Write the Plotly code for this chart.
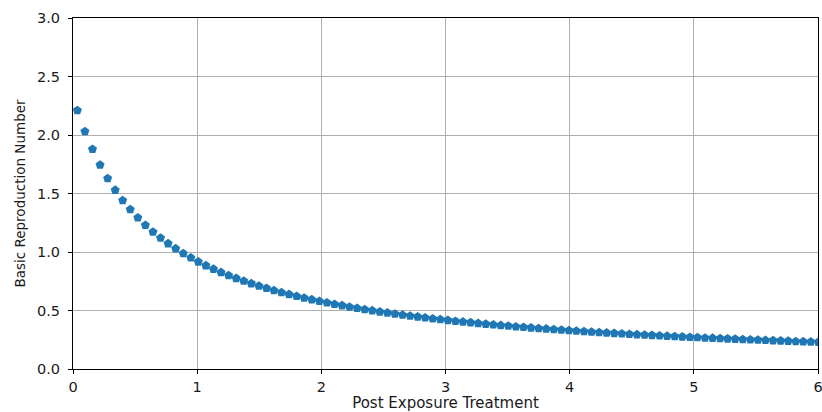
import plotly.graph_objects as go

treatment = [
    0.035, 0.096, 0.157, 0.218, 0.279, 0.340, 0.400, 0.461, 0.522, 0.583,
    0.644, 0.705, 0.766, 0.827, 0.888, 0.949, 1.009, 1.070, 1.131, 1.192,
    1.253, 1.314, 1.375, 1.436, 1.497, 1.558, 1.618, 1.679, 1.740, 1.801,
    1.862, 1.923, 1.984, 2.045, 2.106, 2.167, 2.227, 2.288, 2.349, 2.410,
    2.471, 2.532, 2.593, 2.654, 2.715, 2.776, 2.836, 2.897, 2.958, 3.019,
    3.080, 3.141, 3.202, 3.263, 3.324, 3.385, 3.445, 3.506, 3.567, 3.628,
    3.689, 3.750, 3.811, 3.872, 3.933, 3.994, 4.054, 4.115, 4.176, 4.237,
    4.298, 4.359, 4.420, 4.481, 4.542, 4.603, 4.663, 4.724, 4.785, 4.846,
    4.907, 4.968, 5.029, 5.090, 5.151, 5.212, 5.272, 5.333, 5.394, 5.455,
    5.516, 5.577, 5.638, 5.699, 5.760, 5.821, 5.881, 5.942, 6.003,
]

r0 = [
    2.210, 2.030, 1.878, 1.744, 1.628, 1.529, 1.441, 1.363, 1.293, 1.229,
    1.172, 1.120, 1.072, 1.029, 0.988, 0.951, 0.916, 0.884, 0.854, 0.826,
    0.800, 0.775, 0.752, 0.730, 0.710, 0.690, 0.672, 0.654, 0.638, 0.622,
    0.607, 0.593, 0.579, 0.566, 0.554, 0.542, 0.530, 0.519, 0.509, 0.499,
    0.489, 0.480, 0.471, 0.462, 0.454, 0.446, 0.438, 0.430, 0.423, 0.416,
    0.409, 0.403, 0.397, 0.390, 0.384, 0.379, 0.373, 0.368, 0.362, 0.357,
    0.352, 0.347, 0.343, 0.338, 0.334, 0.329, 0.325, 0.321, 0.317, 0.313,
    0.309, 0.305, 0.302, 0.298, 0.294, 0.291, 0.288, 0.285, 0.281, 0.278,
    0.275, 0.272, 0.269, 0.266, 0.264, 0.261, 0.258, 0.256, 0.253, 0.251,
    0.248, 0.246, 0.243, 0.241, 0.239, 0.236, 0.234, 0.232, 0.230,
]

x_ticks = [0, 1, 2, 3, 4, 5, 6]
y_ticks = [0.0, 0.5, 1.0, 1.5, 2.0, 2.5, 3.0]
y_tick_text = ["0.0", "0.5", "1.0", "1.5", "2.0", "2.5", "3.0"]

TEXT = "#1a1a1a"

fig = go.Figure()
fig.add_trace(go.Scatter(
    x=treatment, y=r0, mode="markers",
    marker=dict(symbol="pentagon", size=9.5, color="#1f77b4", line=dict(width=0)),
    showlegend=False,
))

axis_common = dict(
    showline=True, linecolor="black", linewidth=1, mirror=True,
    showgrid=True, gridcolor="#b0b0b0", gridwidth=1,
    ticks="outside", ticklen=4, tickcolor="black", tickwidth=1,
    zeroline=False, automargin=False, ticklabeloverflow="allow",
    tickfont=dict(family="DejaVu Sans", size=14.5, color=TEXT),
)

fig.update_layout(
    width=822, height=412,
    margin=dict(l=73, r=4, t=18, b=43),
    paper_bgcolor="white", plot_bgcolor="white",
    font=dict(family="DejaVu Sans", size=14, color=TEXT),
    xaxis=dict(
        range=[0, 6], tickvals=x_ticks, ticktext=[str(v) for v in x_ticks],
        ticklabelstandoff=1,
        title=dict(text="Post Exposure Treatment", standoff=2,
                   font=dict(family="DejaVu Sans", size=15, color=TEXT)),
        **axis_common,
    ),
    yaxis=dict(
        range=[0, 3], tickvals=y_ticks, ticktext=y_tick_text,
        ticklabelstandoff=5,
        title=dict(text="Basic Reproduction Number", standoff=8,
                   font=dict(family="DejaVu Sans", size=13.5, color=TEXT)),
        **axis_common,
    ),
)

fig.write_html(
    "out.html",
    config={"displayModeBar": False},
    post_script="document.body.style.margin='0';document.body.style.overflow='hidden';",
)
